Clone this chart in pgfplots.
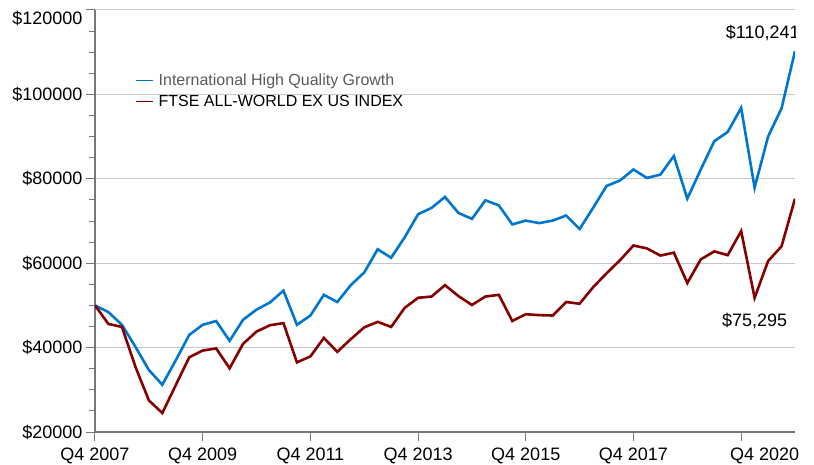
\documentclass[border=0pt]{standalone}
\usepackage{pgfplots}
\pgfplotsset{compat=1.18}
\usepackage{fontspec}
\setmainfont{Liberation Sans}
\definecolor{serblue}{RGB}{0,118,206}
\definecolor{serred}{RGB}{135,0,0}
\definecolor{gridgray}{RGB}{200,200,200}
\definecolor{axgray}{RGB}{120,120,120}
\begin{document}
\begin{tikzpicture}
\begin{axis}[
  at={(95pt,32pt)}, anchor=south west,
  scale only axis, width=700pt, height=422pt,
  xmin=0, xmax=52, ymin=20000, ymax=120000,
  axis x line*=bottom, axis y line*=left,
  axis line style={axgray, line width=1.2pt},
  tick align=outside,
  major tick length=9pt, minor tick length=6pt,
  tick style={axgray, line width=1pt},
  xtick={0,8,16,24,32,40,48},
  xticklabels={Q4 2007,Q4 2009,Q4 2011,Q4 2013,Q4 2015,Q4 2017,\makebox[0pt][l]{\hspace*{-11pt}Q4 2020}},
  ytick={20000,40000,60000,80000,100000,120000},
  yticklabels={\$20000,\$40000,\$60000,\$80000,\$100000,{}},
  extra y ticks={120000},
  extra y tick labels={\$120000},
  extra y tick style={grid=major, yticklabel style={yshift=-8pt}},
  minor y tick num=3,
  ymajorgrids, major grid style={gridgray, line width=1pt},
  ticklabel style={font=\fontsize{18}{20}\selectfont, text=black},
  xticklabel style={yshift=-3pt},
  /pgf/number format/assume math mode=true,
  legend cell align=left,
  legend style={draw=none, fill=none, at={(0.053,0.858)}, anchor=north west,
    font=\fontsize{16}{20}\selectfont, row sep=4pt},
  legend image post style={line width=1.3pt},
]
\addplot[serblue, line width=2.6pt] coordinates {
(0,50000)(1,48400)(2,45400)(3,40200)(4,34700)(5,31200)(6,37000)(7,43000)(8,45400)(9,46300)
(10,41600)(11,46600)(12,49000)(13,50700)(14,53500)(15,45400)(16,47600)(17,52500)(18,50800)(19,54800)
(20,57800)(21,63300)(22,61300)(23,66100)(24,71600)(25,73100)(26,75700)(27,71900)(28,70500)(29,74900)
(30,73700)(31,69200)(32,70100)(33,69500)(34,70100)(35,71300)(36,68100)(37,73100)(38,78300)(39,79600)
(40,82200)(41,80200)(42,81000)(43,85400)(44,75300)(45,82200)(46,88900)(47,91100)(48,96800)(49,77900)
(50,90000)(51,96700)(52,110241)};
\addlegendentry{\hspace*{3pt}\textcolor{black!65}{International High Quality Growth}}
\addplot[serred, line width=2.6pt] coordinates {
(0,50000)(1,45600)(2,44900)(3,35500)(4,27500)(5,24500)(6,31100)(7,37700)(8,39300)(9,39800)
(10,35100)(11,40900)(12,43800)(13,45300)(14,45800)(15,36500)(16,37900)(17,42300)(18,39000)(19,42000)
(20,44800)(21,46100)(22,44900)(23,49400)(24,51800)(25,52100)(26,54800)(27,52200)(28,50100)(29,52100)
(30,52500)(31,46300)(32,47900)(33,47700)(34,47600)(35,50800)(36,50400)(37,54300)(38,57600)(39,60700)
(40,64200)(41,63500)(42,61800)(43,62500)(44,55300)(45,60900)(46,62800)(47,61900)(48,67600)(49,51800)
(50,60500)(51,64000)(52,75295)};
\addlegendentry{\hspace*{3pt}FTSE ALL-WORLD EX US INDEX}
\node[font=\fontsize{18}{20}\selectfont] at (axis cs:49.6,114560) {\$110,241};
\node[font=\fontsize{18}{20}\selectfont] at (axis cs:49.0,46300) {\$75,295};
\end{axis}
\pgfresetboundingbox
\useasboundingbox (0,0) rectangle (814pt,464pt);
\end{tikzpicture}
\end{document}
